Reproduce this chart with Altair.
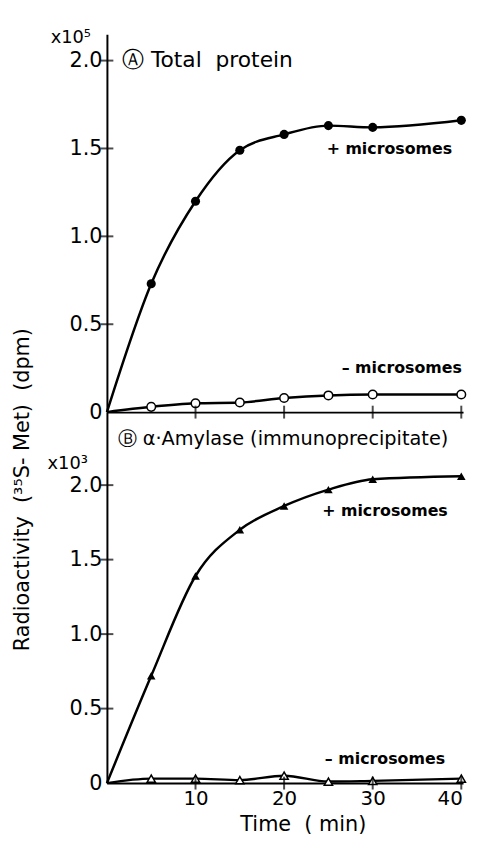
import altair as alt
import pandas as pd

# ---- data ----
time = [5, 10, 15, 20, 25, 30, 40]
a_plus = [0.73, 1.20, 1.49, 1.58, 1.63, 1.62, 1.66]      # x10^5 dpm, + microsomes
a_minus = [0.03, 0.05, 0.055, 0.08, 0.095, 0.10, 0.10]   # x10^5 dpm, - microsomes
b_plus = [0.72, 1.39, 1.70, 1.86, 1.97, 2.04, 2.06]      # x10^3 dpm, + microsomes
b_minus = [0.03, 0.03, 0.02, 0.05, 0.01, 0.015, 0.03]    # x10^3 dpm, - microsomes

x_tick_values = [10, 20, 30, 40]
y_tick_values = [0, 0.5, 1.0, 1.5, 2.0]

FONT = "DejaVu Sans"
NB = "\u00a0"
W = 360
X_DOM = [0, 40.2]


def series(vals, name):
    return pd.DataFrame({"t": [0] + time, "v": [0] + vals, "s": name,
                         "pt": [False] + [True] * len(time)})


def panel(plus, minus, ymax, height, shape, sizes,
          title, title_pos, mult, mult_pos, labels, show_x_labels, extra=None, frame=None):
    df = pd.concat([series(plus, "plus"), series(minus, "minus")])
    xs = alt.Scale(domain=X_DOM, nice=False, zero=False)
    ys = alt.Scale(domain=[0, ymax], nice=False)
    x_axis = alt.Axis(values=x_tick_values, ticks=False, labels=show_x_labels,
                      grid=False, domainColor="black", domainWidth=2,
                      labelFont=FONT, labelFontSize=20, labelColor="black",
                      labelPadding=6,
                      labelAlign={"condition": {"test": "datum.value == 40", "value": "right"},
                                  "value": "center"},
                      labelOffset={"condition": {"test": "datum.value == 40", "value": 1},
                                   "value": 0},
                      title=("Time" + NB + NB + "(" + NB + "min)") if show_x_labels else None,
                      titleFont=FONT, titleFontSize=21, titleFontWeight="normal",
                      titleColor="black", titleX=198, titleY=48,
                      titleBaseline="alphabetic")
    y_axis = alt.Axis(values=y_tick_values, ticks=False, grid=False,
                      domainColor="black", domainWidth=2, title=None,
                      labelFont=FONT, labelFontSize=21, labelColor="black",
                      labelPadding=5,
                      labelExpr="datum.value == 0 ? '0' : format(datum.value, '.1f')")
    X = alt.X("t:Q", scale=xs, axis=x_axis)
    Y = alt.Y("v:Q", scale=ys, axis=y_axis)

    base = alt.Chart(df)
    line = base.mark_line(color="black", strokeWidth=2.5, interpolate="monotone").encode(
        x=X, y=Y, detail="s:N")
    pts_plus = base.transform_filter("datum.pt && datum.s == 'plus'").mark_point(
        shape=shape, filled=True, color="black", size=sizes[0], opacity=1).encode(
        x=alt.X("t:Q", scale=xs), y=alt.Y("v:Q", scale=ys))
    pts_minus = base.transform_filter("datum.pt && datum.s == 'minus'").mark_point(
        shape=shape, filled=True, fill="white", stroke="black", strokeWidth=1.5,
        size=sizes[1], opacity=1).encode(
        x=alt.X("t:Q", scale=xs), y=alt.Y("v:Q", scale=ys))

    xt = alt.Chart(pd.DataFrame({"t": x_tick_values, "v": [0] * len(x_tick_values)})).mark_tick(
        orient="vertical", size=13, thickness=2, color="black").encode(
        x=alt.X("t:Q", scale=xs), y=alt.Y("v:Q", scale=ys))
    yv = [v for v in y_tick_values if v > 0]
    yt = alt.Chart(pd.DataFrame({"t": [0] * len(yv), "v": yv})).mark_tick(
        orient="horizontal", size=13, thickness=2, color="black").encode(
        x=alt.X("t:Q", scale=xs), y=alt.Y("v:Q", scale=ys))

    lab_df = pd.DataFrame(labels, columns=["t", "v", "label"])
    labs = alt.Chart(lab_df).mark_text(align="left", baseline="alphabetic", font=FONT,
                                       fontSize=16, fontWeight="bold", color="black").encode(
        x=alt.X("t:Q", scale=xs), y=alt.Y("v:Q", scale=ys), text="label:N")

    ttl = alt.Chart(pd.DataFrame({"t": [title_pos[0]], "v": [title_pos[1]], "label": [title]})).mark_text(
        align="left", baseline="alphabetic", font=FONT, fontSize=title_pos[2], color="black").encode(
        x=alt.X("t:Q", scale=xs), y=alt.Y("v:Q", scale=ys), text="label:N")
    mul = alt.Chart(pd.DataFrame({"t": [mult_pos[0]], "v": [mult_pos[1]], "label": [mult]})).mark_text(
        align="left", baseline="alphabetic", font=FONT, fontSize=18, color="black").encode(
        x=alt.X("t:Q", scale=xs), y=alt.Y("v:Q", scale=ys), text="label:N")

    layers = [line, pts_plus, pts_minus, xt, yt, labs, ttl, mul]
    if extra is not None:
        ex = alt.Chart(pd.DataFrame({"t": [extra[0]], "v": [extra[1]], "label": [extra[2]]})).mark_text(
            align="center", baseline="middle", angle=270, font=FONT, fontSize=21,
            color="black").encode(
            x=alt.X("t:Q", scale=xs), y=alt.Y("v:Q", scale=ys), text="label:N")
        layers.append(ex)
    if frame is not None:
        # invisible (white) guide that fixes the page margins of the figure
        fr = alt.Chart(pd.DataFrame({"t": [frame[0]], "v": [0], "v2": [frame[1]]})).mark_rule(
            color="white", strokeWidth=1).encode(
            x=alt.X("t:Q", scale=xs), y=alt.Y("v:Q", scale=ys), y2="v2:Q")
        layers.insert(0, fr)
    return alt.layer(*layers).properties(width=W, height=height)


panel_a = panel(a_plus, a_minus, 2.15, 382, "circle", (85, 75),
                "Ⓐ Total" + NB + NB + "protein", (1.7, 1.966, 22), "x10⁵", (-6.35, 2.10),
                [(24.8, 1.47, "+ microsomes"), (26.5, 0.225, "– microsomes")],
                False, frame=(-11.0, 2.27))
panel_b = panel(b_plus, b_minus, 2.49, 375, "triangle-up", (75, 70),
                "Ⓑ α·Amylase (immunoprecipitate)", (1.2, 2.27, 19.5), "x10³", (-6.7, 2.11),
                [(24.3, 1.79, "+ microsomes"), (24.6, 0.13, "– microsomes")],
                True, extra=(-9.5, 1.97, "Radioactivity" + NB + NB + "(³⁵S- Met)" + NB + NB + "(dpm)"))

chart = alt.vconcat(panel_a, panel_b, spacing=0, bounds="flush").properties(
    padding=0,
).configure(font=FONT).configure_view(stroke=None)

chart.save("out.html", embed_options={"renderer": "svg", "actions": False})
